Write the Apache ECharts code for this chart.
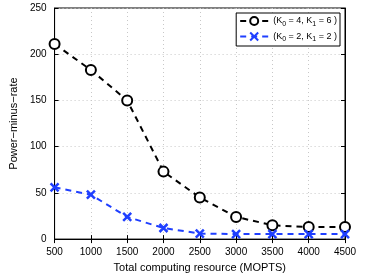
<!DOCTYPE html>
<html><head><meta charset="utf-8">
<script src="https://cdn.jsdelivr.net/npm/echarts@6/dist/echarts.min.js"></script>
<style>html,body{margin:0;padding:0;background:#fff}#c{width:374px;height:278px}</style>
</head><body><div id="c"></div>
<script>
var xValues = [500, 1000, 1500, 2000, 2500, 3000, 3500, 4000, 4500];
var seriesA = [211, 183, 150, 73, 45, 24, 15, 13, 13];
var seriesB = [56, 48, 24, 12, 6, 5.5, 5.5, 5.5, 5.5];
var nameA = '(K{s|0} = 4, K{s|1} = 6 )';
var nameB = '(K{s|0} = 2, K{s|1} = 2 )';
var xTitle = 'Total computing resource (MOPTS)';
var yTitle = 'Power\u2212minus\u2212rate';

function pairs(v){ return xValues.map(function(x,i){ return [x, v[i]]; }); }
var xPath = 'path://M0,0 L10,10 M10,0 L0,10';
var font = 'Liberation Sans, Arial, sans-serif';
var chart = echarts.init(document.getElementById('c'));
var axCommon = {
  axisLine:{show:true,lineStyle:{color:'#000',width:1}},
  axisTick:{show:true,inside:true,length:4,lineStyle:{color:'#000'}},
  axisLabel:{color:'#000',fontSize:10,fontFamily:font,formatter:function(v){return String(v);}},
};
chart.setOption({
  animation:false,
  grid:{left:39,right:29,top:8,bottom:30,show:true,borderColor:'#000',borderWidth:1},
  legend:{
    right:34, top:13, orient:'vertical', itemGap:4, itemWidth:28, itemHeight:10,
    backgroundColor:'#fff', borderColor:'#000', borderWidth:1, padding:[3,3,3,3],
    textStyle:{fontSize:9,fontFamily:font,color:'#000',rich:{s:{fontSize:7,verticalAlign:'bottom',padding:[6,0,0,0],fontFamily:font}}},
    data:[nameA,nameB]
  },
  xAxis:[
    Object.assign({type:'value',min:500,max:4500,interval:500,
      name:xTitle,nameLocation:'middle',nameGap:17,nameTextStyle:{fontSize:11,fontFamily:font,color:'#000'},
      splitLine:{show:true,lineStyle:{color:'#c8c8c8',type:[1,3]}}}, axCommon),
    {type:'value',position:'top',min:500,max:4500,interval:500,axisLine:{show:true,lineStyle:{color:'#000'}},
      axisTick:{show:true,inside:true,length:4,lineStyle:{color:'#000'}},axisLabel:{show:false},splitLine:{show:false}}
  ],
  yAxis:[
    Object.assign({type:'value',min:0,max:250,interval:50,
      name:yTitle,nameLocation:'middle',nameGap:26,nameTextStyle:{fontSize:11,fontFamily:font,color:'#000'},
      splitLine:{show:true,lineStyle:{color:'#c8c8c8',type:[1,3]}}}, axCommon),
    {type:'value',position:'right',min:0,max:250,interval:50,axisLine:{show:true,lineStyle:{color:'#000'}},
      axisTick:{show:true,inside:true,length:4,lineStyle:{color:'#000'}},axisLabel:{show:false},splitLine:{show:false}}
  ],
  series:[
    {name:nameA,type:'line',data:pairs(seriesA),symbol:'circle',symbolSize:10,showAllSymbol:true,
      lineStyle:{color:'#000',width:2,type:[6,5]},
      itemStyle:{color:'#fff',borderColor:'#000',borderWidth:2}},
    {name:nameB,type:'line',data:pairs(seriesB),symbol:xPath,symbolSize:8,showAllSymbol:true,
      lineStyle:{color:'#1f3fff',width:2,type:[6,5]},
      itemStyle:{color:'#1f3fff',borderColor:'#1f3fff',borderWidth:2.5}}
  ]
});
</script></body></html>
